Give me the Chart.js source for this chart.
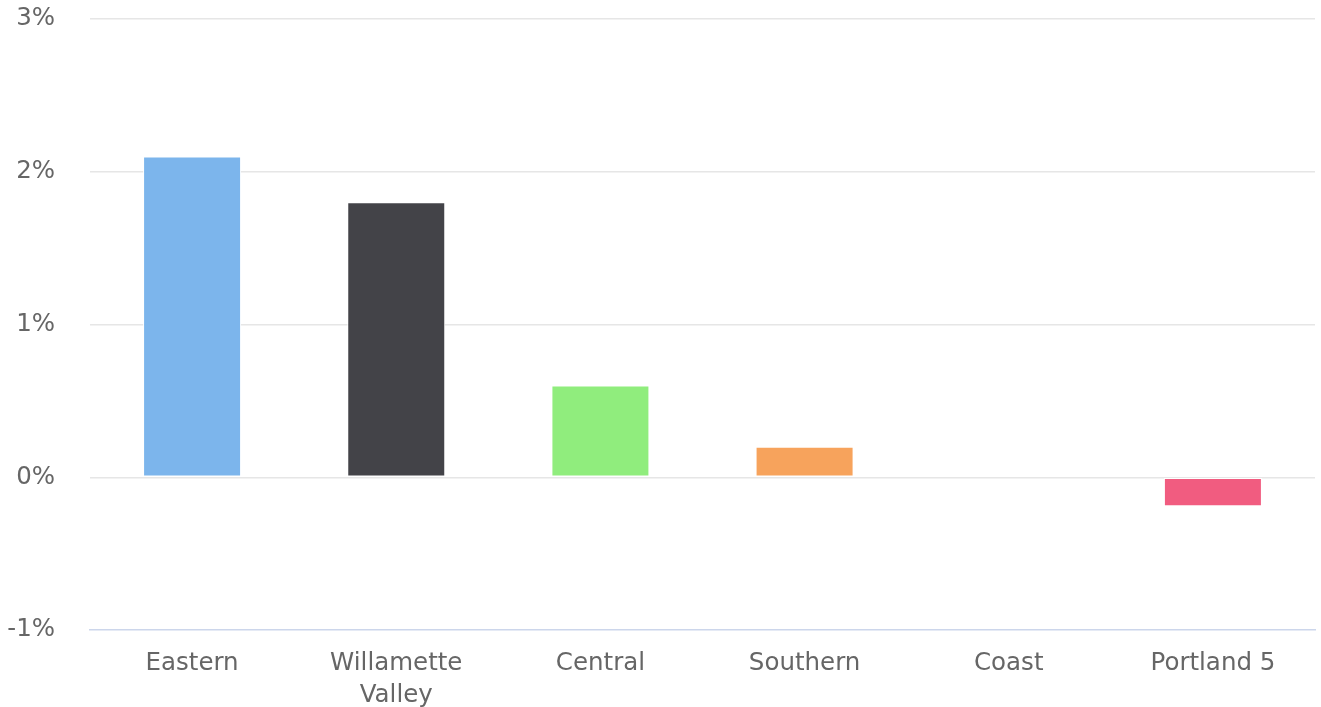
<!DOCTYPE html>
<html>
<head>
<meta charset="utf-8">
<script src="https://cdn.jsdelivr.net/npm/chart.js@4/dist/chart.umd.min.js"></script>
<style>
html,body{margin:0;padding:0;background:#fff;}
#wrap{width:1321px;height:707px;}
</style>
</head>
<body>
<div id="wrap"><canvas id="c" width="1321" height="707"></canvas></div>
<script>
const categories = ['Eastern', ['Willamette', 'Valley'], 'Central', 'Southern', 'Coast', 'Portland 5'];
const values = [2.1, 1.8, 0.6, 0.2, 0, -0.19];
const barColors = ['#7cb5ec', '#434348', '#90ed7d', '#f7a35c', '#8085e9', '#f15c80'];
const yMin = -1, yMax = 3, yStep = 1;

const FONT = 'DejaVu Sans';
new Chart(document.getElementById('c'), {
  type: 'bar',
  data: {
    labels: categories,
    datasets: [{
      data: values,
      backgroundColor: barColors,
      borderColor: '#ffffff',
      borderWidth: values.map(v => v === 0 ? 0 : 1),
      borderSkipped: false,
      barPercentage: 0.48,
      categoryPercentage: 1
    }]
  },
  options: {
    responsive: false,
    animation: false,
    devicePixelRatio: 1,
    layout: { padding: { top: 19, right: 6, left: 0, bottom: 0 } },
    plugins: { legend: { display: false }, tooltip: { enabled: false } },
    scales: {
      x: {
        grid: { display: false, drawTicks: false },
        border: { display: true, color: '#ccd6eb', width: 1.5 },
        ticks: {
          color: '#666666',
          font: { family: FONT, size: 24.5, lineHeight: 1.3 },
          padding: 18,
          maxRotation: 0,
          autoSkip: false
        },
        afterFit: s => { s.height = 77; s.paddingLeft = 0; s.paddingRight = 0; }
      },
      y: {
        min: yMin, max: yMax,
        grid: {
          drawTicks: false,
          color: ctx => ctx.tick && ctx.tick.value === yMin ? 'rgba(0,0,0,0)' : '#e6e6e6',
          lineWidth: 1.5
        },
        border: { display: false },
        ticks: {
          stepSize: yStep,
          color: '#666666',
          font: { family: FONT, size: 24.5 },
          padding: 35,
          callback: v => v + '%'
        },
        afterFit: s => { s.width = 90; s.paddingTop = 0; s.paddingBottom = 0; }
      }
    }
  }
});
</script>
</body>
</html>
